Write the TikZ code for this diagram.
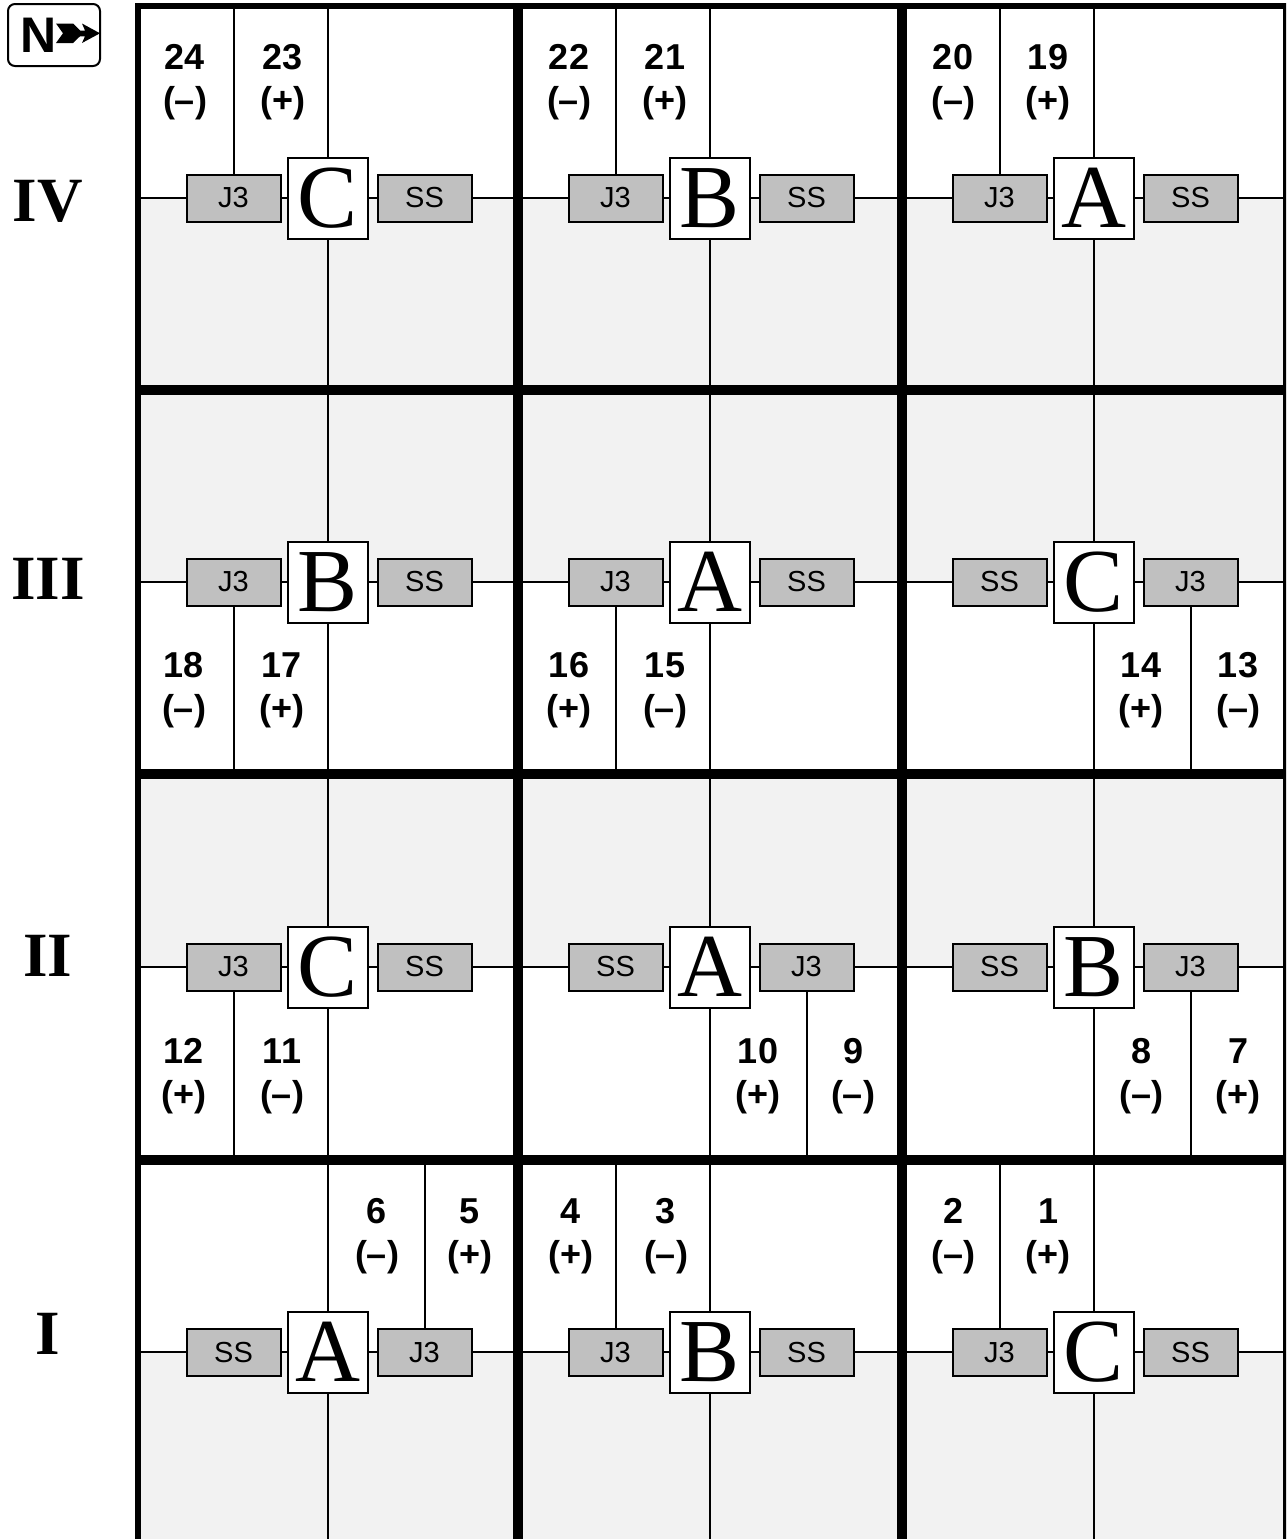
\documentclass[tikz,border=0pt]{standalone}
\usepackage{fontspec}
\setmainfont{Liberation Serif}
\newfontfamily\arialf{Liberation Sans}
\definecolor{shadeg}{HTML}{F2F2F2}
\definecolor{boxg}{HTML}{C0C0C0}
\tikzset{
  thinline/.style={line width=2pt},
  smallbox/.style={draw, line width=2pt, fill=boxg, minimum width=94pt, minimum height=47pt, inner sep=0pt, font=\arialf\fontsize{29}{29}\selectfont},
  letterbox/.style={draw, line width=2pt, fill=white, minimum width=80pt, minimum height=81pt, inner sep=0pt, font=\fontsize{90}{90}\selectfont},
  numlab/.style={anchor=base, inner sep=0pt, font=\arialf\bfseries\fontsize{36}{36}\selectfont},
  rowlab/.style={inner sep=0pt, font=\bfseries\fontsize{63}{63}\selectfont},
  divider/.style={line width=10pt},
  framestyle/.style={line width=6pt},
}
% #1 name, #2 cx, #3 cy, #4 letter, #5 left box, #6 right box, #7 shade direction (1 below, (-1) above)
\newcommand\mkcell[7]{%
  \fill[shadeg] ({#2-192},{#3}) rectangle ({#2+192},{#3+#7*193});
  \node[smallbox] (#1l) at ({#2-94.5},{#3}) {#5};
  \node[letterbox] (#1c) at (#2,#3) {#4};
  \node[smallbox] (#1r) at ({#2+96.5},{#3}) {#6};
  \coordinate (#1W) at ({#2-192},{#3});
  \coordinate (#1E) at ({#2+192},{#3});
  \coordinate (#1N) at (#2,{#3-193});
  \coordinate (#1S) at (#2,{#3+193});
  \draw[thinline] (#1W) -- (#1l);
  \draw[thinline] (#1l) -- (#1c);
  \draw[thinline] (#1c) -- (#1r);
  \draw[thinline] (#1r) -- (#1E);
  \draw[thinline] (#1N) -- (#1c);
  \draw[thinline] (#1c) -- (#1S);
}
% #1 cell, #2 box suffix, #3 anchor, #4 end coordinate suffix
\newcommand\mklead[4]{%
  \coordinate (#1lead) at (#1#2.#3 |- #1#4);
  \draw[thinline] (#1lead) -- (#1#2.#3);
}
% #1 x, #2 baseline of number, #3 number, #4 sign
\newcommand\mklab[4]{%
  \node[numlab] (n#3) at (#1,#2) {#3};
  \node[numlab] (s#3) at (#1,{#2+43}) {(#4)};
}
\begin{document}
\begin{tikzpicture}[x=1pt,y=-1pt]
\useasboundingbox (0,0) rectangle (1286,1539);
\fill[white] (0,0) rectangle (1286,1539);
\clip (0,0) rectangle (1286,1539);

% Row IV
\mkcell{a}{328}{198}{C}{J3}{SS}{1}
\mklead{a}{l}{north}{N}
\mklab{185}{69}{24}{–}
\mklab{283}{69}{23}{+}
\mkcell{b}{710}{198}{B}{J3}{SS}{1}
\mklead{b}{l}{north}{N}
\mklab{569}{69}{22}{–}
\mklab{665}{69}{21}{+}
\mkcell{c}{1094}{198}{A}{J3}{SS}{1}
\mklead{c}{l}{north}{N}
\mklab{953}{69}{20}{–}
\mklab{1048}{69}{19}{+}

% Row III
\mkcell{d}{328}{582}{B}{J3}{SS}{(-1)}
\mklead{d}{l}{south}{S}
\mklab{184}{677}{18}{–}
\mklab{282}{677}{17}{+}
\mkcell{e}{710}{582}{A}{J3}{SS}{(-1)}
\mklead{e}{l}{south}{S}
\mklab{569}{677}{16}{+}
\mklab{665}{677}{15}{–}
\mkcell{f}{1094}{582}{C}{SS}{J3}{(-1)}
\mklead{f}{r}{south}{S}
\mklab{1141}{677}{14}{+}
\mklab{1238}{677}{13}{–}

% Row II
\mkcell{g}{328}{967}{C}{J3}{SS}{(-1)}
\mklead{g}{l}{south}{S}
\mklab{184}{1063}{12}{+}
\mklab{282}{1063}{11}{–}
\mkcell{h}{710}{967}{A}{SS}{J3}{(-1)}
\mklead{h}{r}{south}{S}
\mklab{758}{1063}{10}{+}
\mklab{853}{1063}{9}{–}
\mkcell{i}{1094}{967}{B}{SS}{J3}{(-1)}
\mklead{i}{r}{south}{S}
\mklab{1141}{1063}{8}{–}
\mklab{1238}{1063}{7}{+}

% Row I
\mkcell{j}{328}{1352}{A}{SS}{J3}{1}
\mklead{j}{r}{north}{N}
\mklab{377}{1223}{6}{–}
\mklab{470}{1223}{5}{+}
\mkcell{k}{710}{1352}{B}{J3}{SS}{1}
\mklead{k}{l}{north}{N}
\mklab{571}{1223}{4}{+}
\mklab{666}{1223}{3}{–}
\mkcell{m}{1094}{1352}{C}{J3}{SS}{1}
\mklead{m}{l}{north}{N}
\mklab{953}{1223}{2}{–}
\mklab{1048}{1223}{1}{+}

% thick dividers and frame
\draw[divider] (518,6) -- (518,1550);
\draw[divider] (902,6) -- (902,1550);
\draw[divider] (138,390) -- (1286,390);
\draw[divider] (138,774) -- (1286,774);
\draw[divider] (138,1160) -- (1286,1160);
\draw[framestyle] (138,1550) -- (138,6) -- (1286,6) -- (1286,1550);

% row labels
\node[rowlab] (rIV) at (48,201) {IV};
\node[rowlab] (rIII) at (48,579) {III};
\node[rowlab] (rII) at (48,956) {II};
\node[rowlab] (rI) at (48,1334) {I};

% north box
\node[draw, line width=2pt, rounded corners=7pt, minimum width=92pt, minimum height=62pt, inner sep=0pt] (nbox) at (54,35) {};
\node[inner sep=0pt, font=\arialf\bfseries\fontsize{50}{50}\selectfont] (ntext) at (38.5,35) {N};
\fill (56,23.5) -- (73,23.5) -- (80,30.5) -- (85,30.5) -- (82,23.5) -- (100,33.3) -- (82,43) -- (85,36.3) -- (80,36.3) -- (73,43) -- (56,43) -- (63,33.3) -- cycle;
\end{tikzpicture}
\end{document}
